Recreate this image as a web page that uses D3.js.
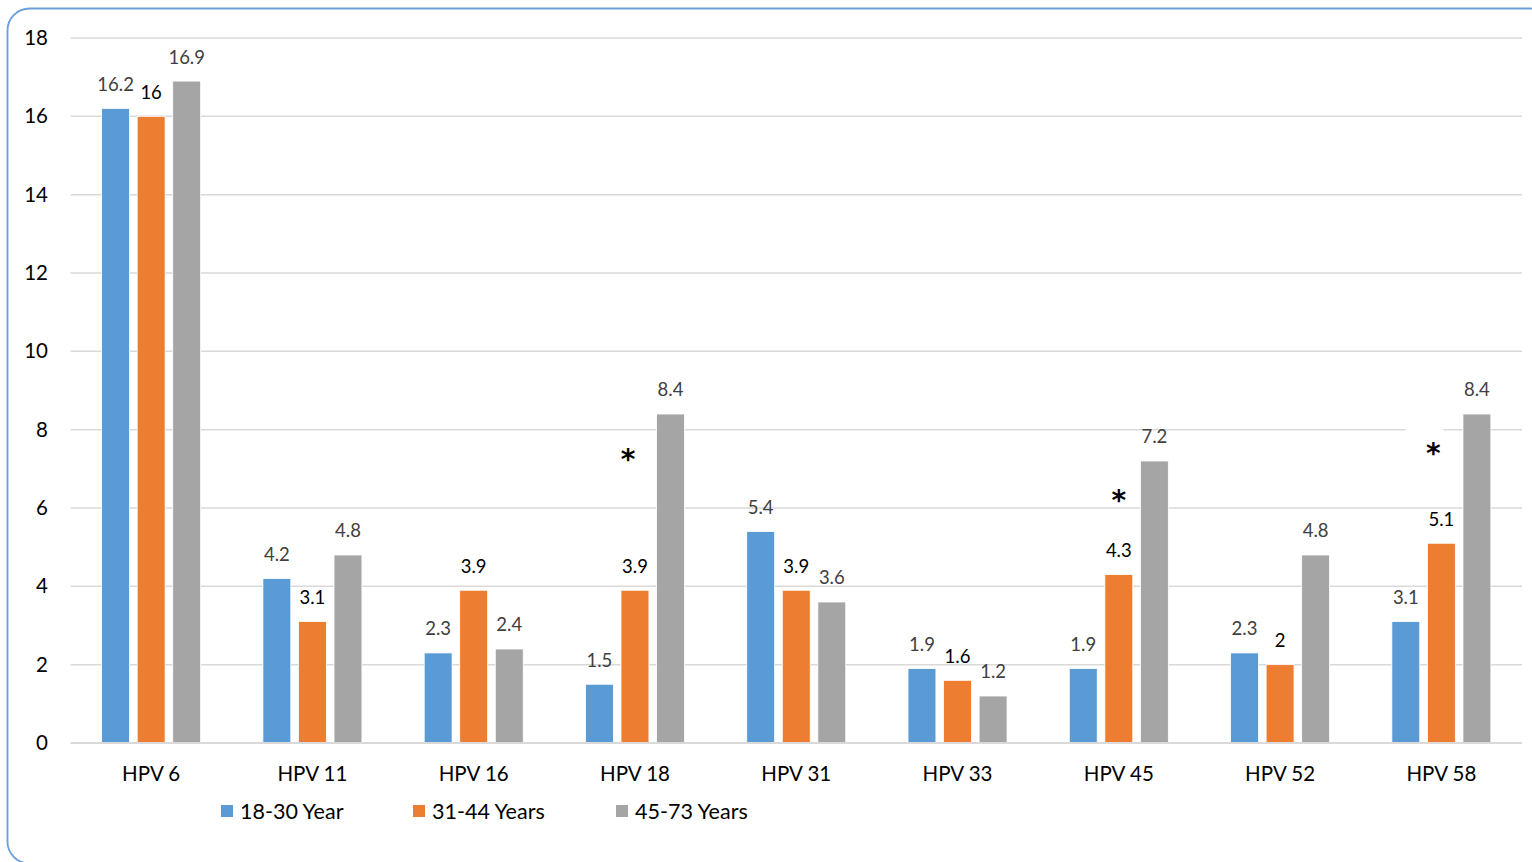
<!DOCTYPE html>
<html>
<head>
<meta charset="utf-8">
<script src="https://cdn.jsdelivr.net/npm/d3@7/dist/d3.min.js"></script>
<style>
  html, body { margin: 0; padding: 0; background: #fff; }
  svg { display: block; }
  text { font-family: Lato, "Open Sans", "Liberation Sans", sans-serif; }
</style>
</head>
<body>
<svg id="chart" width="1532" height="862"></svg>
<script>
const categories = ["HPV 6", "HPV 11", "HPV 16", "HPV 18", "HPV 31", "HPV 33", "HPV 45", "HPV 52", "HPV 58"];
const seriesNames = ["18-30 Year", "31-44 Years", "45-73 Years"];
const values1830 = [16.2, 4.2, 2.3, 1.5, 5.4, 1.9, 1.9, 2.3, 3.1];
const values3144 = [16, 3.1, 3.9, 3.9, 3.9, 1.6, 4.3, 2, 5.1];
const values4573 = [16.9, 4.8, 2.4, 8.4, 3.6, 1.2, 7.2, 4.8, 8.4];
const yTicks = [0, 2, 4, 6, 8, 10, 12, 14, 16, 18];
// significance markers: category, approximate value height
const markerCategories = ["HPV 18", "HPV 45", "HPV 58"];
const markerValues = [7.38, 6.33, 7.53];
const markerOffsets = [-7, 0, -8];
const markerBoxed = [false, false, true];

const colors = ["#5b9bd5", "#ed7d31", "#a5a5a5"];
const labelColors = ["#404040", "#000000", "#404040"];
const allSeries = [values1830, values3144, values4573];

const svg = d3.select("#chart");

// outer border
svg.append("rect")
  .attr("x", 7.5).attr("y", 8.5)
  .attr("width", 1545).attr("height", 855)
  .attr("rx", 22).attr("ry", 22)
  .attr("fill", "none")
  .attr("stroke", "#6a9fd8")
  .attr("stroke-width", 1.8);

const plotLeft = 70.5, plotRight = 1522, plotTop = 38, plotBottom = 743;

const y = d3.scaleLinear().domain([0, 18]).range([plotBottom, plotTop]);
const x0 = d3.scaleBand().domain(categories).range([plotLeft, plotRight])
  .paddingInner(0.386).paddingOuter(0.193);
const x1 = d3.scaleBand().domain(seriesNames).range([0, x0.bandwidth()])
  .paddingInner(0.215).paddingOuter(0);

// gridlines
svg.append("g").selectAll("line")
  .data(yTicks.filter(d => d > 0))
  .join("line")
  .attr("x1", plotLeft).attr("x2", plotRight)
  .attr("y1", d => y(d)).attr("y2", d => y(d))
  .attr("stroke", "#d9d9d9").attr("stroke-width", 1.5);

// y axis labels
const yAxis = d3.axisLeft(y).tickValues(yTicks).tickSize(0).tickPadding(0);
const gy = svg.append("g").attr("transform", `translate(48,0)`).call(yAxis);
gy.select(".domain").remove();
gy.selectAll("text")
  .attr("font-size", 20.5).attr("fill", "#000")
  .style("font-family", "Lato, 'Open Sans', sans-serif");

// bars
const groups = svg.append("g").selectAll("g")
  .data(categories)
  .join("g")
  .attr("transform", d => `translate(${x0(d)},0)`);

groups.selectAll("rect")
  .data((d, i) => seriesNames.map((s, j) => ({ s, j, v: allSeries[j][i] })))
  .join("rect")
  .attr("x", d => x1(d.s))
  .attr("width", x1.bandwidth())
  .attr("y", d => y(d.v))
  .attr("height", d => y(0) - y(d.v))
  .attr("fill", d => colors[d.j])
  .attr("stroke", "#fff").attr("stroke-width", 0.8);

// baseline
svg.append("line")
  .attr("x1", plotLeft).attr("x2", plotRight)
  .attr("y1", y(0)).attr("y2", y(0))
  .attr("stroke", "#d9d9d9").attr("stroke-width", 2);

// data labels
groups.selectAll("text.lbl")
  .data((d, i) => seriesNames.map((s, j) => ({ s, j, v: allSeries[j][i] })))
  .join("text")
  .attr("class", "lbl")
  .attr("x", d => x1(d.s) + x1.bandwidth() / 2)
  .attr("y", d => y(d.v) - 24)
  .attr("dy", "0.35em")
  .attr("text-anchor", "middle")
  .attr("font-size", 18.5)
  .attr("fill", d => labelColors[d.j])
  .text(d => d.v);

// x axis labels
const xAxis = d3.axisBottom(x0).tickSize(0).tickPadding(0);
const gx = svg.append("g").attr("transform", `translate(0,${y(0)})`).call(xAxis);
gx.select(".domain").remove();
gx.selectAll("text")
  .attr("y", 31).attr("dy", "0.35em")
  .attr("font-size", 20.5).attr("fill", "#000")
  .style("font-family", "Lato, 'Open Sans', sans-serif");

// significance markers
markerCategories.forEach((c, i) => {
  const cx = x0(c) + x0.bandwidth() / 2 + markerOffsets[i];
  const cy = y(markerValues[i]);
  if (markerBoxed[i]) {
    svg.append("rect")
      .attr("x", cx - 28).attr("y", cy - 20)
      .attr("width", 38).attr("height", 40)
      .attr("fill", "#fff");
  }
  svg.append("text")
    .attr("x", cx).attr("y", cy + 15)
    .attr("text-anchor", "middle")
    .attr("font-size", 28).attr("font-weight", "bold")
    .attr("fill", "#000")
    .style("font-family", "'DejaVu Sans', sans-serif")
    .text("*");
});

// legend
const legendX = [221, 413, 616];
const legend = svg.append("g").selectAll("g")
  .data(seriesNames)
  .join("g")
  .attr("transform", (d, i) => `translate(${legendX[i]},811)`);
legend.append("rect")
  .attr("x", 0).attr("y", -6).attr("width", 12).attr("height", 12)
  .attr("fill", (d, i) => colors[i]);
legend.append("text")
  .attr("x", 19).attr("y", 0).attr("dy", "0.35em")
  .attr("font-size", 21.5).attr("fill", "#000")
  .text(d => d);
</script>
</body>
</html>
